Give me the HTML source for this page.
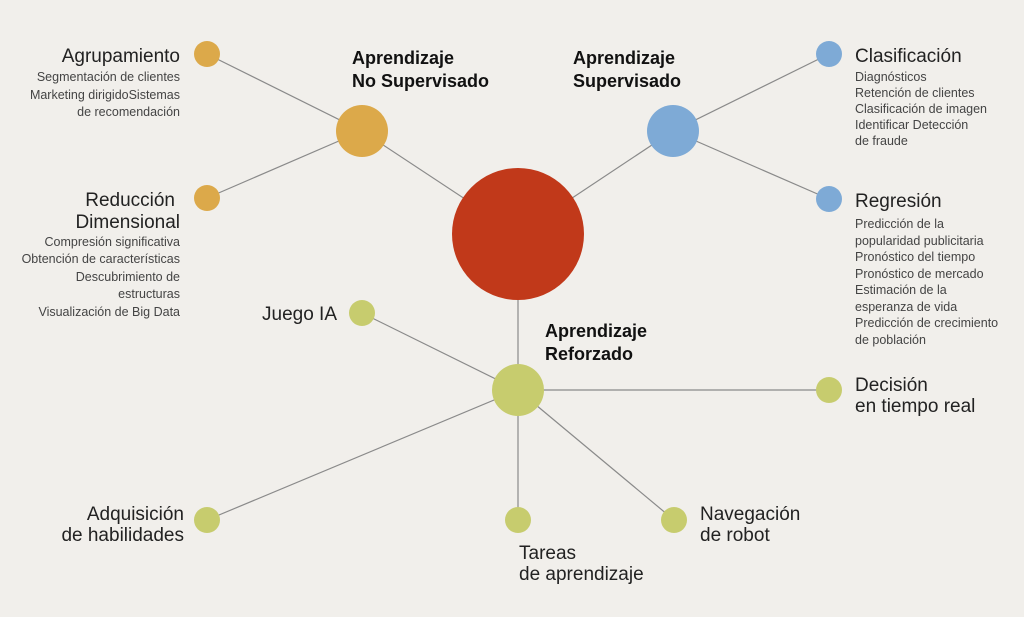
<!DOCTYPE html>
<html><head><meta charset="utf-8"><style>
body{margin:0;background:#f1efeb}
svg{display:block}
text{font-family:"Liberation Sans",sans-serif}
.b{font-size:19px;fill:#222}
.s{font-size:12.5px;fill:#444}
.h{font-size:18px;font-weight:bold;fill:#111}
</style></head><body>
<svg width="1024" height="617" viewBox="0 0 1024 617">
<rect width="1024" height="617" fill="#f1efeb"/>
<g stroke="#8a8a8a" stroke-width="1.2">
<line x1="207" y1="54" x2="362" y2="131"/>
<line x1="207" y1="198" x2="362" y2="131"/>
<line x1="362" y1="131" x2="518" y2="234"/>
<line x1="673" y1="131" x2="518" y2="234"/>
<line x1="673" y1="131" x2="829" y2="54"/>
<line x1="673" y1="131" x2="829" y2="199"/>
<line x1="518" y1="234" x2="518" y2="390"/>
<line x1="362" y1="313" x2="518" y2="390"/>
<line x1="829" y1="390" x2="518" y2="390"/>
<line x1="207" y1="520" x2="518" y2="390"/>
<line x1="518" y1="520" x2="518" y2="390"/>
<line x1="674" y1="520" x2="518" y2="390"/>
</g>
<circle cx="518" cy="234" r="66" fill="#c1391a"/>
<g fill="#dca94a"><circle cx="362" cy="131" r="26"/><circle cx="207" cy="54" r="13"/><circle cx="207" cy="198" r="13"/></g>
<g fill="#7eaad6"><circle cx="673" cy="131" r="26"/><circle cx="829" cy="54" r="13"/><circle cx="829" cy="199" r="13"/></g>
<g fill="#c7cc6e"><circle cx="518" cy="390" r="26"/><circle cx="362" cy="313" r="13"/><circle cx="829" cy="390" r="13"/><circle cx="207" cy="520" r="13"/><circle cx="518" cy="520" r="13"/><circle cx="674" cy="520" r="13"/></g>

<text class="h" x="352" y="64">Aprendizaje</text><text class="h" x="352" y="87">No Supervisado</text>
<text class="h" x="573" y="64">Aprendizaje</text><text class="h" x="573" y="87">Supervisado</text>
<text class="h" x="545" y="337">Aprendizaje</text><text class="h" x="545" y="360">Reforzado</text>

<g text-anchor="end">
<text class="b" x="180" y="62">Agrupamiento</text>
<text class="s" x="180" y="81">Segmentación de clientes</text>
<text class="s" x="180" y="99">Marketing dirigidoSistemas</text>
<text class="s" x="180" y="116">de recomendación</text>
<text class="b" x="175" y="206">Reducción</text>
<text class="b" x="180" y="228">Dimensional</text>
<text class="s" x="180" y="246">Compresión significativa</text>
<text class="s" x="180" y="263">Obtención de características</text>
<text class="s" x="180" y="281">Descubrimiento de</text>
<text class="s" x="180" y="298">estructuras</text>
<text class="s" x="180" y="316">Visualización de Big Data</text>
<text class="b" x="337" y="320">Juego IA</text>
<text class="b" x="184" y="520">Adquisición</text>
<text class="b" x="184" y="541">de habilidades</text>
</g>

<text class="b" x="855" y="62">Clasificación</text>
<text class="s" x="855" y="81">Diagnósticos</text>
<text class="s" x="855" y="97">Retención de clientes</text>
<text class="s" x="855" y="113">Clasificación de imagen</text>
<text class="s" x="855" y="129">Identificar Detección</text>
<text class="s" x="855" y="145">de fraude</text>
<text class="b" x="855" y="207">Regresión</text>
<text class="s" x="855" y="228">Predicción de la</text>
<text class="s" x="855" y="245">popularidad publicitaria</text>
<text class="s" x="855" y="261">Pronóstico del tiempo</text>
<text class="s" x="855" y="278">Pronóstico de mercado</text>
<text class="s" x="855" y="294">Estimación de la</text>
<text class="s" x="855" y="311">esperanza de vida</text>
<text class="s" x="855" y="327">Predicción de crecimiento</text>
<text class="s" x="855" y="344">de población</text>
<text class="b" x="855" y="391">Decisión</text>
<text class="b" x="855" y="412">en tiempo real</text>
<text class="b" x="519" y="559">Tareas</text>
<text class="b" x="519" y="580">de aprendizaje</text>
<text class="b" x="700" y="520">Navegación</text>
<text class="b" x="700" y="541">de robot</text>
</svg>
</body></html>
